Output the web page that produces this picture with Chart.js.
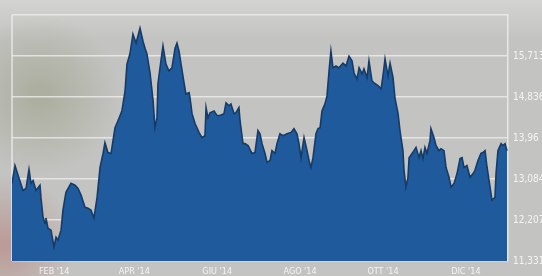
<!DOCTYPE html>
<html>
<head>
<meta charset="utf-8">
<script src="https://cdn.jsdelivr.net/npm/chart.js@4/dist/chart.umd.min.js"></script>
<style>
  html, body { margin: 0; padding: 0; background: #c2c2c0; }
  canvas { display: block; }
</style>
</head>
<body>
<canvas id="grafico" width="542" height="276"></canvas>
<script>
// giorno dell'anno (2014) e valore
const giorni = [
  0, 2.2, 8.1, 10.3, 12.5, 14.0, 15.5, 17.7, 20.6, 21.3, 22.8, 24.3, 25.0, 26.5, 28.7, 30.9,
  32.4, 33.8, 36.1, 37.5, 39.7, 43.4, 46.4, 48.6, 50.8, 53.7, 55.9, 58.1, 60.3, 62.6, 64.8,
  67.0, 68.4, 70.6, 72.9, 75.8, 78.0, 80.9, 83.2, 84.6, 86.8, 89.0, 91.3, 92.7, 94.2, 96.4,
  97.9, 99.3, 101.6, 103.8, 105.2, 106.7, 107.4, 109.6, 111.1, 113.3, 115.5, 117.7, 120.0,
  121.4, 122.9, 124.4, 126.6, 128.0, 130.3, 131.0, 132.5, 134.7, 137.6, 139.8, 142.0, 142.8,
  144.2, 145.7, 148.7, 150.9, 153.1, 156.0, 157.5, 159.7, 161.1, 163.4, 164.8, 167.0, 167.8,
  170.0, 171.5, 173.7, 176.6, 178.8, 181.0, 182.5, 184.0, 186.2, 187.7, 189.9, 191.3, 193.5,
  195.0, 197.2, 199.4, 202.4, 205.3, 207.5, 209.7, 211.2, 212.7, 214.9, 217.1, 218.6, 220.0,
  221.5, 223.7, 225.2, 226.7, 228.1, 230.3, 231.8, 233.3, 234.7, 236.2, 238.4, 240.6, 243.6,
  245.8, 248.0, 250.2, 251.7, 253.9, 255.4, 257.6, 259.0, 261.3, 262.7, 264.9, 266.4, 269.3,
  271.6, 273.0, 274.5, 276.7, 278.2, 280.4, 281.8, 284.1, 285.5, 287.7, 288.5, 289.9, 291.4,
  292.2, 294.4, 295.8, 297.3, 299.5, 301.0, 302.4, 303.9, 305.4, 307.6, 308.3, 310.5, 312.0,
  314.2, 315.7, 317.9, 319.4, 321.6, 323.1, 325.3, 327.5, 329.7, 331.2, 332.6, 334.8, 337.0,
  339.3, 340.7, 342.9, 345.1, 346.6, 348.1, 349.6, 351.8, 353.2, 355.4, 356.2, 357.6, 359.9,
  361.3, 362.8, 364.3
];
const valori = [
  12.99, 13.37, 12.84, 12.88, 13.29, 12.99, 13.05, 12.84, 12.95, 12.69, 12.27, 12.14, 12.25, 12.03, 11.99, 11.63,
  11.84, 11.78, 11.99, 12.42, 12.80, 12.99, 12.95, 12.88, 12.74, 12.48, 12.46, 12.42, 12.25, 12.69, 13.33,
  13.63, 13.86, 13.65, 13.63, 14.18, 14.33, 14.54, 14.97, 15.54, 15.76, 16.18, 15.99, 16.14, 16.31, 16.03,
  15.88, 15.76, 15.35, 14.76, 14.18, 14.39, 15.12, 15.61, 15.93, 15.54, 15.39, 15.46, 15.88,
  15.99, 15.82, 15.54, 15.14, 14.90, 14.93, 14.82, 14.48, 14.27, 14.08, 13.97, 14.01, 14.61,
  14.39, 14.50, 14.54, 14.44, 14.44, 14.48, 14.71, 14.65, 14.69, 14.48, 14.50, 14.61, 14.33,
  13.84, 13.84, 13.80, 13.63, 13.65, 14.12, 14.05, 13.84, 13.63, 13.44, 13.48, 13.69, 13.63,
  13.84, 14.05, 14.01, 14.05, 14.08, 14.16, 14.05, 13.84, 13.54, 13.97, 13.69, 13.48, 13.33,
  13.54, 14.05, 14.16, 14.18, 14.54, 14.69, 14.86, 15.39, 15.82, 15.46, 15.50, 15.46, 15.56,
  15.50, 15.71, 15.61, 15.35, 15.22, 15.46, 15.33, 15.44, 15.25, 15.61, 15.18, 15.14, 15.08,
  15.01, 15.29, 15.65, 15.29, 15.56, 15.25, 14.82, 14.48, 14.12, 13.69, 13.27, 12.91, 13.12,
  13.54, 13.63, 13.69, 13.76, 13.54, 13.69, 13.52, 13.76, 13.63, 13.91, 14.16, 13.97, 13.80,
  13.69, 13.73, 13.69, 13.33, 13.12, 12.91, 12.99, 13.20, 13.52, 13.54, 13.33, 13.37, 13.12,
  13.20, 13.27, 13.48, 13.63, 13.65, 13.69, 13.33, 12.91, 12.63, 12.69, 13.20, 13.69, 13.84,
  13.80, 13.84, 13.69
];
const mesi = ["FEB '14", "APR '14", "GIU '14", "AGO '14", "OTT '14", "DIC '14"];
const inizioMese = [31, 90, 151, 212, 273, 334];
const tickY = [11.331, 12.207, 13.084, 13.96, 14.836, 15.713, 16.59];

const font = "'Liberation Sans Narrow', 'DejaVu Sans Condensed', 'Roboto', sans-serif";

// sfondo grigio sfocato e cornice sinistra
const sfondo = {
  id: 'sfondo',
  beforeDraw(chart) {
    const { ctx, width, height, chartArea } = chart;
    ctx.save();
    ctx.fillStyle = '#c3c3c1';
    ctx.fillRect(0, 0, width, height);
    let g = ctx.createLinearGradient(0, 0, 0, 40);
    g.addColorStop(0, 'rgba(215,215,212,0.8)');
    g.addColorStop(1, 'rgba(215,215,212,0)');
    ctx.fillStyle = g;
    ctx.fillRect(0, 0, width, 40);
    g = ctx.createRadialGradient(40, 95, 10, 40, 95, 80);
    g.addColorStop(0, 'rgba(130,140,100,0.35)');
    g.addColorStop(1, 'rgba(130,140,100,0)');
    ctx.fillStyle = g;
    ctx.fillRect(0, 0, 160, 200);
    g = ctx.createRadialGradient(5, 245, 5, 5, 245, 70);
    g.addColorStop(0, 'rgba(175,100,90,0.4)');
    g.addColorStop(1, 'rgba(175,100,90,0)');
    ctx.fillStyle = g;
    ctx.fillRect(0, 150, 120, 126);
    ctx.strokeStyle = 'rgba(240,240,238,0.8)';
    ctx.lineWidth = 1.5;
    ctx.beginPath();
    ctx.moveTo(chartArea.left, chartArea.top);
    ctx.lineTo(chartArea.left, chartArea.bottom);
    ctx.stroke();
    ctx.restore();
  }
};

new Chart(document.getElementById('grafico'), {
  type: 'line',
  data: {
    datasets: [{
      data: giorni.map((g, i) => ({ x: g, y: valori[i] })),
      borderColor: '#163b66',
      borderWidth: 1.6,
      backgroundColor: '#1f5b9c',
      fill: 'start',
      tension: 0,
      pointRadius: 0
    }]
  },
  options: {
    responsive: false,
    animation: false,
    layout: { padding: { left: 12, top: 15 } },
    plugins: { legend: { display: false }, tooltip: { enabled: false } },
    scales: {
      x: {
        type: 'linear',
        min: 0,
        max: 365,
        afterBuildTicks: axis => { axis.ticks = inizioMese.map(v => ({ value: v })); },
        afterFit: axis => { axis.height = 15; },
        grid: { display: false },
        border: { display: false },
        ticks: {
          autoSkip: false,
          maxRotation: 0,
          padding: -3,
          color: '#f4f4f4',
          font: { family: font, size: 9 },
          callback: (v, i) => mesi[i]
        }
      },
      y: {
        position: 'right',
        min: tickY[0],
        max: tickY[tickY.length - 1],
        afterBuildTicks: axis => { axis.ticks = tickY.map(v => ({ value: v })); },
        afterFit: axis => { axis.width = 34; },
        grid: { color: 'rgba(240,240,238,0.75)', lineWidth: 1.5, drawTicks: false },
        border: { display: true, color: 'rgba(240,240,238,0.8)', width: 1.5 },
        ticks: {
          padding: 5,
          color: '#f4f4f4',
          font: { family: font, size: 10 },
          callback: v => v === tickY[tickY.length - 1] ? '' : String(v).replace('.', ',')
        }
      }
    }
  },
  plugins: [sfondo]
});
</script>
</body>
</html>
